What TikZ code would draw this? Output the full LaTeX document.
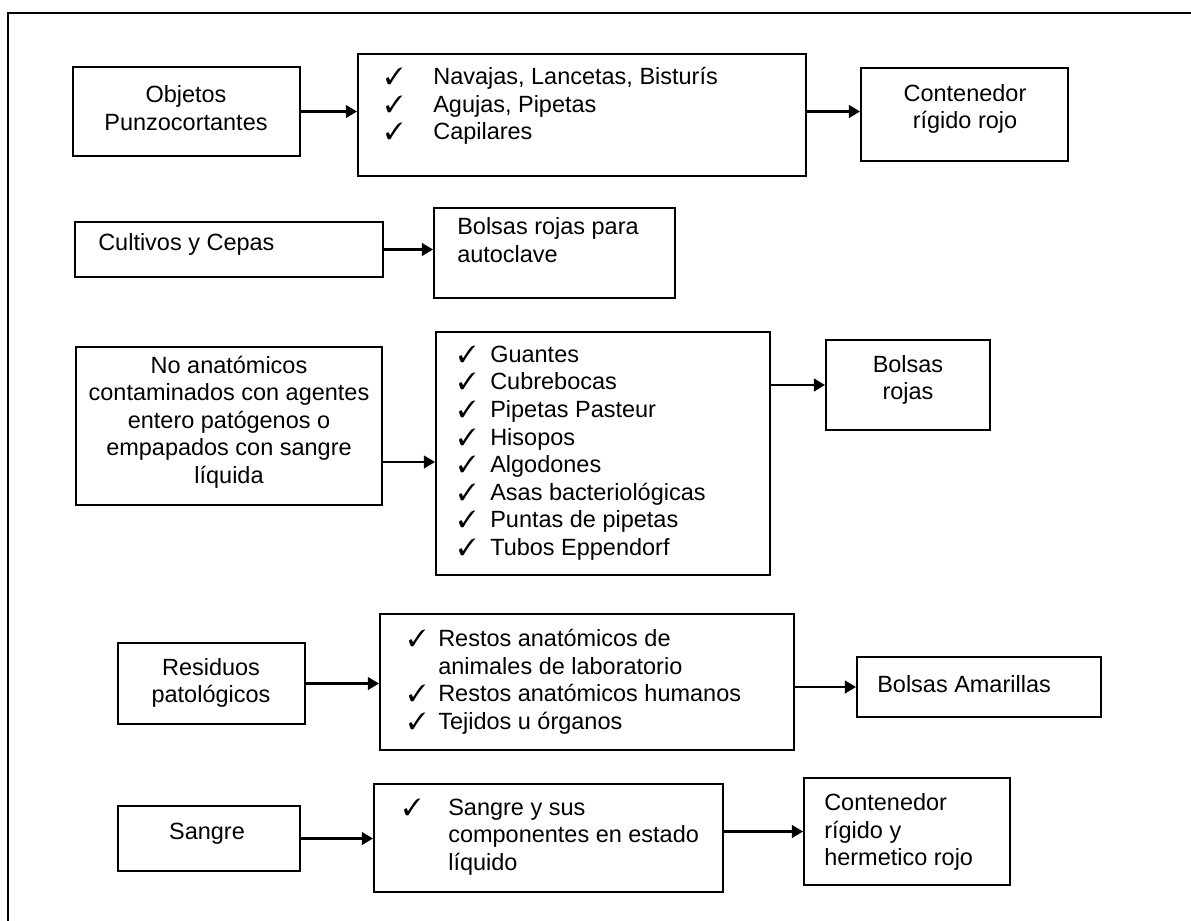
\documentclass[tikz,border=0pt]{standalone}
\usepackage{fontspec}
\setmainfont{Liberation Sans}
\usepackage{pifont}
\usetikzlibrary{arrows.meta,positioning,calc}
\newcommand{\chk}[1]{\makebox[#1][l]{\ding{51}}}
\tikzset{
  caja/.style={draw, line width=1.3pt, inner sep=0pt},
  flecha/.style={line width=1.7pt, -{Triangle[length=8pt,width=9pt]}},
  every node/.style={font=\fontsize{16.7}{19.6}\selectfont},
  centrado/.style={inner sep=0pt, align=center},
  lista/.style={inner sep=0pt, align=left, anchor=west}
}
\begin{document}
\begin{tikzpicture}[x=0.025cm, y=-0.025cm]
\useasboundingbox (0,0) rectangle (1191,921);
\draw[line width=1.4pt] (8,921) -- (8,13) -- (1191,13);

\node[caja, minimum width=5.675cm, minimum height=2.225cm] (obj) at (186.5,111.5) {};
\node[caja, minimum width=11.2cm, minimum height=3.05cm] (list1) at (582,115) {};
\node[caja, minimum width=5.175cm, minimum height=2.325cm] (cont1) at (964.5,114.5) {};
\node[centrado] (objtxt) at (186,108) {Objetos\\Punzocortantes};
\node[lista] (list1txt) at (385,106) {\chk{1.2cm}Navajas, Lancetas, Bisturís\\\chk{1.2cm}Agujas, Pipetas\\\chk{1.2cm}Capilares};
\node[centrado] (cont1txt) at (965,109) {Contenedor\\rígido rojo};
\draw[flecha] (obj.east) -- (obj.east -| list1.west);
\draw[flecha] (list1.east |- obj.east) -- (cont1.west |- obj.east);

\node[caja, minimum width=7.7cm, minimum height=1.375cm] (cult) at (229,249.5) {};
\node[caja, minimum width=6.025cm, minimum height=2.25cm] (bolsas1) at (554.5,253) {};
\node[lista] (culttxt) at (98,244) {Cultivos y Cepas};
\node[lista] (bolsas1txt) at (457,240) {Bolsas rojas para\\autoclave};
\draw[flecha] (cult.east) -- (cult.east -| bolsas1.west);

\node[caja, minimum width=7.65cm, minimum height=3.95cm] (noana) at (229,426) {};
\node[caja, minimum width=8.35cm, minimum height=6.075cm] (list2) at (603,453.5) {};
\node[caja, minimum width=4.1cm, minimum height=2.25cm] (bolsas2) at (908,385) {};
\node[centrado] (noanatxt) at (229,422) {No anatómicos\\contaminados con agentes\\entero patógenos o\\empapados con sangre\\líquida};
\node[lista] (list2txt) at (458,453) {\chk{0.8cm}Guantes\\\chk{0.8cm}Cubrebocas\\\chk{0.8cm}Pipetas Pasteur\\\chk{0.8cm}Hisopos\\\chk{0.8cm}Algodones\\\chk{0.8cm}Asas bacteriológicas\\\chk{0.8cm}Puntas de pipetas\\\chk{0.8cm}Tubos Eppendorf};
\node[centrado] (bolsas2txt) at (908,380) {Bolsas\\rojas};
\coordinate (a3) at ($(noana.east)+(0,36)$);
\draw[flecha] (a3) -- (a3 -| list2.west);
\draw[flecha] (list2.east |- bolsas2.west) -- (bolsas2.west);

\node[caja, minimum width=4.675cm, minimum height=2.025cm] (resid) at (211.5,683.5) {};
\node[caja, minimum width=10.35cm, minimum height=3.4cm] (list3) at (587,682) {};
\node[caja, minimum width=6.1cm, minimum height=1.5cm] (amar) at (979,687) {};
\node[centrado] (residtxt) at (211,683) {Residuos\\patológicos};
\node[lista] (list3txt) at (408,682) {\chk{0.75cm}Restos anatómicos de\\\hspace*{0.75cm}animales de laboratorio\\\chk{0.75cm}Restos anatómicos humanos\\\chk{0.75cm}Tejidos u órganos};
\node[lista] (amartxt) at (877,684) {Bolsas Amarillas};
\draw[flecha] (resid.east) -- (resid.east -| list3.west);
\draw[flecha] (list3.east |- amar.west) -- (amar.west);

\node[caja, minimum width=4.55cm, minimum height=1.625cm] (sangre) at (209,838.5) {};
\node[caja, minimum width=8.725cm, minimum height=2.7cm] (list4) at (548.5,838) {};
\node[caja, minimum width=5.15cm, minimum height=2.675cm] (cont2) at (907,831.5) {};
\node[centrado] (sangretxt) at (207,834) {Sangre};
\node[lista] (list4txt) at (403,837) {\chk{1.125cm}Sangre y sus\\\hspace*{1.125cm}componentes en estado\\\hspace*{1.125cm}líquido};
\node[lista] (cont2txt) at (824,832) {Contenedor\\rígido y\\hermetico rojo};
\draw[flecha] (sangre.east) -- (sangre.east -| list4.west);
\draw[flecha] (list4.east |- cont2.west) -- (cont2.west);
\end{tikzpicture}
\end{document}
